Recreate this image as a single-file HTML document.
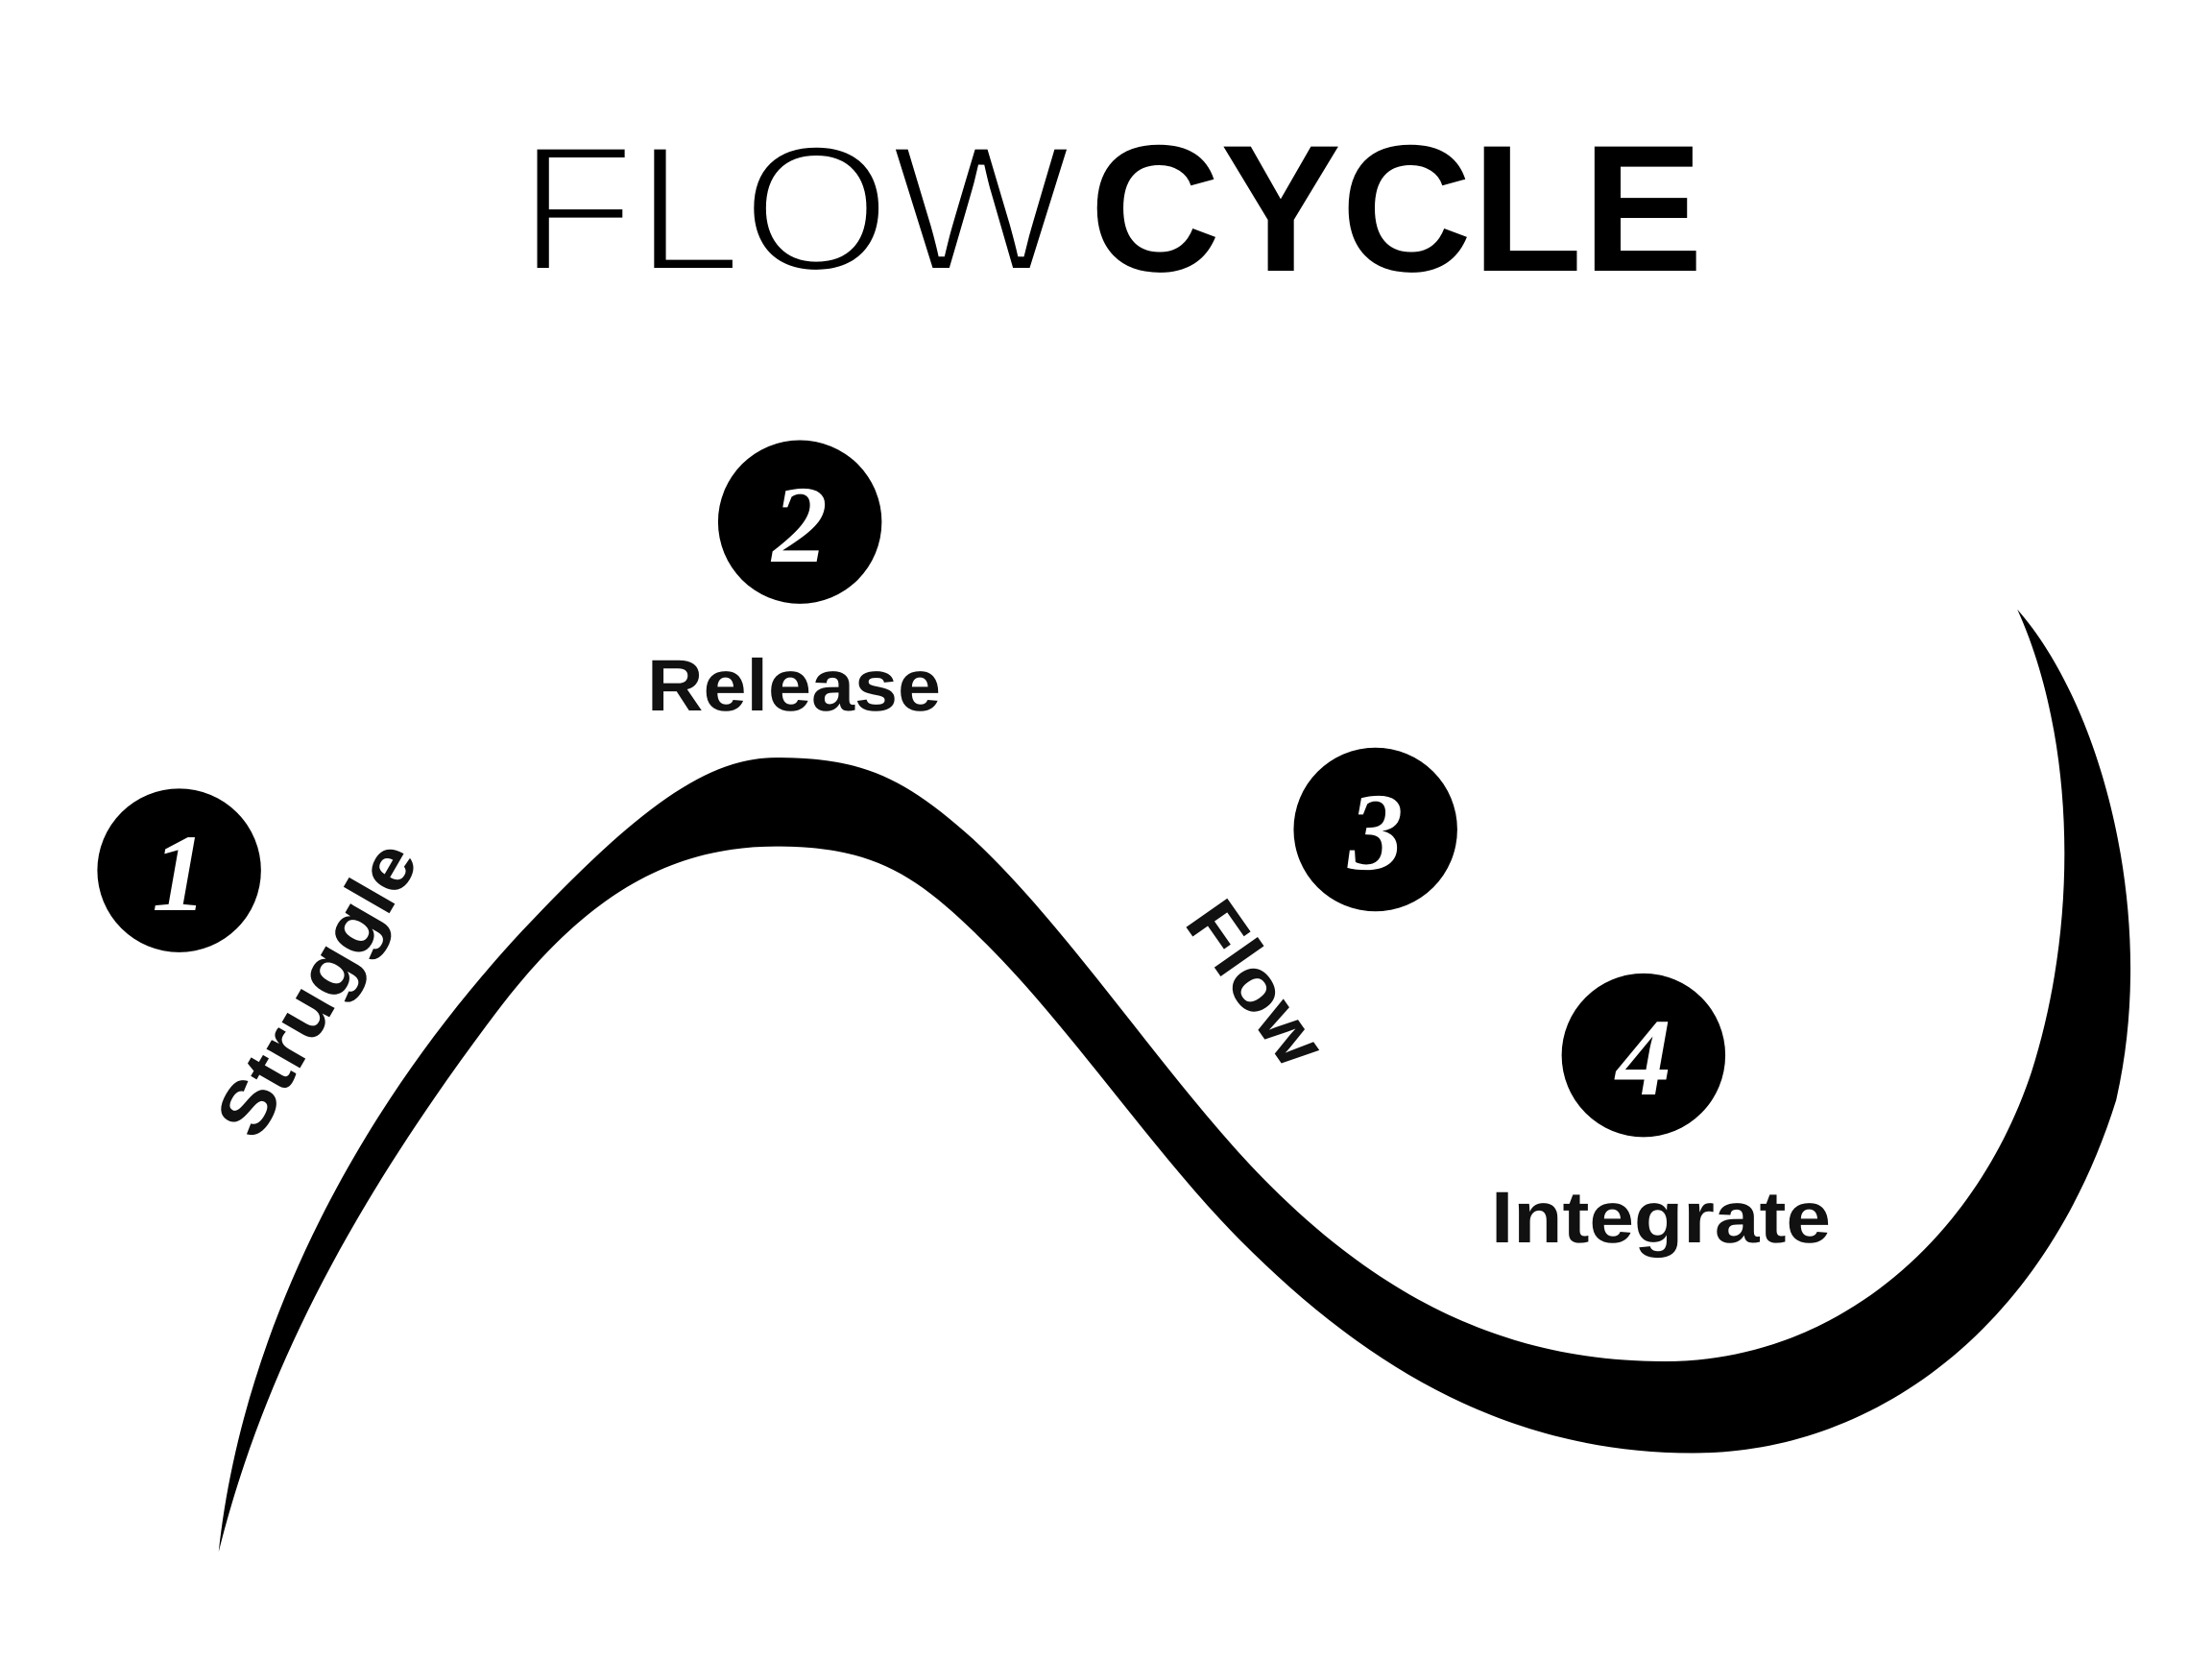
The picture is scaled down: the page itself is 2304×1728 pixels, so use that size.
<!DOCTYPE html>
<html><head><meta charset="utf-8"><style>
html,body{margin:0;padding:0;background:#fff;}
svg{display:block}
</style></head><body>
<svg width="2304" height="1728" viewBox="0 0 2304 1728" xmlns="http://www.w3.org/2000/svg" text-rendering="geometricPrecision">
<rect width="2304" height="1728" fill="#fff"/>
<text x="540" y="282" font-family="Liberation Sans, sans-serif" font-size="188" fill="#000" stroke="#fff" stroke-width="6" textLength="576" lengthAdjust="spacingAndGlyphs">FLOW</text>
<text x="1135" y="282" font-family="Liberation Sans, sans-serif" font-size="188" font-weight="bold" fill="#000" textLength="639" lengthAdjust="spacingAndGlyphs">CYCLE</text>
<g transform="scale(1.4694)">
<path d="M155,1100 C170,960 240,800 370,660 C450,575 500,537 550,537 C610,537 640,550 690,595 C760,660 830,770 900,840 C990,930 1080,965 1180,965 C1300,965 1400,880 1440,760 C1475,650 1470,520 1430,432 C1490,500 1530,650 1500,780 C1450,940 1330,1030 1200,1030 C1060,1030 960,960 880,880 C820,820 760,730 700,670 C650,620 620,600 550,600 C470,600 410,640 350,720 C260,840 190,960 155,1100 Z" fill="#000"/>
<circle cx="127" cy="617" r="58" fill="#000"/>
<circle cx="567" cy="370" r="58" fill="#000"/>
<circle cx="975" cy="588" r="58" fill="#000"/>
<circle cx="1165" cy="748" r="58" fill="#000"/>
</g>
<g font-family="Liberation Serif, serif" font-style="italic" font-weight="bold" font-size="115" fill="#fff" text-anchor="middle">
<text x="187" y="948">1</text>
<text x="833" y="585">2</text>
<text x="1433" y="905">3</text>
<text x="1712" y="1140">4</text>
</g>
<g font-family="Liberation Sans, sans-serif" font-weight="bold" font-size="76" fill="#111" text-anchor="middle">
<text x="827" y="740" textLength="306" lengthAdjust="spacingAndGlyphs">Release</text>
<text x="1730" y="1294" textLength="354" lengthAdjust="spacingAndGlyphs">Integrate</text>
<text transform="translate(330,1030) rotate(-60)" y="26" textLength="340" lengthAdjust="spacingAndGlyphs">Struggle</text>
<text transform="translate(1308,1024) rotate(55)" y="26" textLength="190" lengthAdjust="spacingAndGlyphs">Flow</text>
</g>
</svg>
</body></html>
